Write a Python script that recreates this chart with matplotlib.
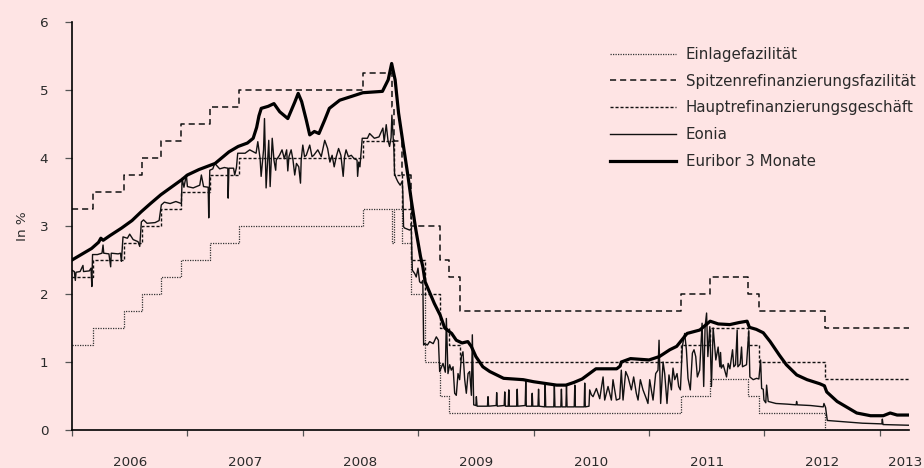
import datetime as _dt
import matplotlib
matplotlib.use("Agg")
import matplotlib.pyplot as plt
from matplotlib.ticker import FixedLocator, NullFormatter

# ---------------- data ----------------
# ECB key rates (change dates and new values)
mro_dates = ["2006-01-01", "2006-03-08", "2006-06-15", "2006-08-09", "2006-10-11", "2006-12-13",
             "2007-03-14", "2007-06-13", "2008-07-09", "2008-10-15", "2008-11-12", "2008-12-10",
             "2009-01-21", "2009-03-11", "2009-04-08", "2009-05-13", "2011-04-13", "2011-07-13",
             "2011-11-09", "2011-12-14", "2012-07-11"]
mro_vals = [2.25, 2.50, 2.75, 3.00, 3.25, 3.50, 3.75, 4.00, 4.25, 3.75, 3.25, 2.50,
            2.00, 1.50, 1.25, 1.00, 1.25, 1.50, 1.25, 1.00, 0.75]

dep_dates = ["2006-01-01", "2006-03-08", "2006-06-15", "2006-08-09", "2006-10-11", "2006-12-13",
             "2007-03-14", "2007-06-13", "2008-07-09", "2008-10-09", "2008-10-15", "2008-11-12",
             "2008-12-10", "2009-01-21", "2009-03-11", "2009-04-08", "2011-04-13", "2011-07-13",
             "2011-11-09", "2011-12-14", "2012-07-11"]
dep_vals = [1.25, 1.50, 1.75, 2.00, 2.25, 2.50, 2.75, 3.00, 3.25, 2.75, 3.25, 2.75,
            2.00, 1.00, 0.50, 0.25, 0.50, 0.75, 0.50, 0.25, 0.00]

mlf_dates = ["2006-01-01", "2006-03-08", "2006-06-15", "2006-08-09", "2006-10-11", "2006-12-13",
             "2007-03-14", "2007-06-13", "2008-07-09", "2008-10-09", "2008-10-15", "2008-11-12",
             "2008-12-10", "2009-03-11", "2009-04-08", "2009-05-13", "2011-04-13", "2011-07-13",
             "2011-11-09", "2011-12-14", "2012-07-11"]
mlf_vals = [3.25, 3.50, 3.75, 4.00, 4.25, 4.50, 4.75, 5.00, 5.25, 4.75, 4.25, 3.75,
            3.00, 2.50, 2.25, 1.75, 2.00, 2.25, 2.00, 1.75, 1.50]

# Euribor 3 months (decimal year, %)
euribor_t = [2006.00, 2006.08, 2006.17, 2006.23, 2006.25, 2006.27, 2006.33, 2006.43, 2006.52,
             2006.60, 2006.68, 2006.77, 2006.86, 2006.95, 2007.00, 2007.10, 2007.24, 2007.36,
             2007.44, 2007.52, 2007.57, 2007.60, 2007.62, 2007.64, 2007.70, 2007.75, 2007.80,
             2007.87, 2007.93, 2007.96, 2007.99, 2008.03, 2008.06, 2008.10, 2008.14, 2008.19,
             2008.23, 2008.32, 2008.43, 2008.52, 2008.69, 2008.74, 2008.77, 2008.80, 2008.83,
             2008.87, 2008.91, 2008.94, 2008.98, 2009.02, 2009.04, 2009.06, 2009.09, 2009.14,
             2009.19, 2009.23, 2009.29, 2009.33, 2009.38, 2009.43, 2009.46, 2009.50, 2009.56,
             2009.62, 2009.74, 2009.91, 2010.00, 2010.20, 2010.28, 2010.35, 2010.42, 2010.54,
             2010.72, 2010.75, 2010.76, 2010.84, 2011.00, 2011.09, 2011.18, 2011.24, 2011.33,
             2011.44, 2011.53, 2011.60, 2011.70, 2011.78, 2011.85, 2011.87, 2011.93, 2011.99,
             2012.05, 2012.13, 2012.19, 2012.28, 2012.37, 2012.48, 2012.52, 2012.54, 2012.63,
             2012.71, 2012.80, 2012.92, 2013.03, 2013.09, 2013.15, 2013.25]
euribor_v = [2.50, 2.58, 2.67, 2.76, 2.82, 2.79, 2.86, 2.97, 3.08,
             3.21, 3.33, 3.46, 3.57, 3.68, 3.75, 3.83, 3.92, 4.09,
             4.17, 4.22, 4.29, 4.45, 4.62, 4.73, 4.76, 4.80, 4.68,
             4.58, 4.82, 4.95, 4.83, 4.56, 4.34, 4.39, 4.36, 4.56,
             4.73, 4.85, 4.91, 4.96, 4.98, 5.15, 5.39, 5.15, 4.66,
             4.20, 3.75, 3.38, 2.94, 2.55, 2.40, 2.18, 2.06, 1.86,
             1.69, 1.50, 1.42, 1.32, 1.28, 1.30, 1.23, 1.08, 0.93,
             0.86, 0.76, 0.74, 0.71, 0.66, 0.66, 0.70, 0.75, 0.90,
             0.90, 0.94, 1.00, 1.05, 1.03, 1.08, 1.18, 1.23, 1.42,
             1.47, 1.60, 1.56, 1.55, 1.58, 1.60, 1.51, 1.48, 1.43,
             1.30, 1.10, 0.96, 0.81, 0.74, 0.68, 0.65, 0.56, 0.42,
             0.34, 0.25, 0.21, 0.21, 0.25, 0.22, 0.22]

# Eonia (decimal year, %)
eonia_t = [2006.000, 2006.020, 2006.029, 2006.035, 2006.070, 2006.095, 2006.100, 2006.150, 2006.165,
           2006.172, 2006.178, 2006.220, 2006.260, 2006.269, 2006.275, 2006.320, 2006.335, 2006.340,
           2006.400, 2006.420, 2006.428, 2006.442, 2006.480, 2006.500, 2006.530, 2006.572, 2006.587,
           2006.601, 2006.620, 2006.650, 2006.720, 2006.755, 2006.774, 2006.800, 2006.850, 2006.900,
           2006.948, 2006.954, 2006.970, 2006.991, 2007.000, 2007.050, 2007.107, 2007.121, 2007.140,
           2007.180, 2007.185, 2007.194, 2007.220, 2007.237, 2007.280, 2007.320, 2007.350, 2007.353,
           2007.360, 2007.400, 2007.410, 2007.425, 2007.436, 2007.500, 2007.540, 2007.595, 2007.610,
           2007.630, 2007.639, 2007.660, 2007.668, 2007.682, 2007.700, 2007.705, 2007.717, 2007.735,
           2007.750, 2007.765, 2007.770, 2007.798, 2007.820, 2007.840, 2007.860, 2007.870, 2007.880,
           2007.899, 2007.915, 2007.930, 2007.945, 2007.965, 2007.980, 2007.986, 2008.000, 2008.015,
           2008.030, 2008.060, 2008.080, 2008.095, 2008.130, 2008.160, 2008.190, 2008.215, 2008.235,
           2008.254, 2008.272, 2008.290, 2008.310, 2008.330, 2008.350, 2008.362, 2008.375, 2008.395,
           2008.420, 2008.445, 2008.470, 2008.475, 2008.485, 2008.495, 2008.515, 2008.521, 2008.560,
           2008.579, 2008.620, 2008.660, 2008.694, 2008.705, 2008.723, 2008.738, 2008.752, 2008.765,
           2008.772, 2008.790, 2008.795, 2008.810, 2008.824, 2008.844, 2008.862, 2008.867, 2008.873,
           2008.882, 2008.926, 2008.940, 2008.949, 2008.970, 2008.983, 2008.998, 2009.012, 2009.027,
           2009.040, 2009.047, 2009.056, 2009.080, 2009.099, 2009.130, 2009.157, 2009.175, 2009.186,
           2009.215, 2009.235, 2009.244, 2009.258, 2009.273, 2009.287, 2009.302, 2009.316, 2009.330,
           2009.345, 2009.359, 2009.374, 2009.388, 2009.403, 2009.417, 2009.432, 2009.446, 2009.461,
           2009.469, 2009.481, 2009.500, 2009.504, 2009.510, 2009.600, 2009.605, 2009.610, 2009.676,
           2009.680, 2009.685, 2009.745, 2009.750, 2009.755, 2009.780, 2009.785, 2009.790, 2009.853,
           2009.858, 2009.863, 2009.927, 2009.932, 2009.937, 2009.983, 2009.988, 2009.993, 2010.038,
           2010.043, 2010.048, 2010.095, 2010.100, 2010.105, 2010.175, 2010.180, 2010.185, 2010.236,
           2010.241, 2010.246, 2010.280, 2010.285, 2010.290, 2010.352, 2010.357, 2010.362, 2010.438,
           2010.443, 2010.448, 2010.480, 2010.486, 2010.500, 2010.515, 2010.544, 2010.573, 2010.602,
           2010.616, 2010.645, 2010.674, 2010.688, 2010.717, 2010.746, 2010.760, 2010.775, 2010.798,
           2010.818, 2010.847, 2010.867, 2010.890, 2010.905, 2010.925, 2010.948, 2010.977, 2010.991,
           2011.006, 2011.020, 2011.035, 2011.058, 2011.078, 2011.087, 2011.101, 2011.122, 2011.136,
           2011.156, 2011.173, 2011.194, 2011.208, 2011.223, 2011.243, 2011.257, 2011.272, 2011.289,
           2011.309, 2011.324, 2011.338, 2011.358, 2011.376, 2011.390, 2011.405, 2011.419, 2011.439,
           2011.460, 2011.474, 2011.486, 2011.499, 2011.510, 2011.527, 2011.541, 2011.556, 2011.579,
           2011.599, 2011.614, 2011.620, 2011.627, 2011.643, 2011.656, 2011.672, 2011.686, 2011.701,
           2011.724, 2011.735, 2011.750, 2011.764, 2011.770, 2011.790, 2011.802, 2011.810, 2011.845,
           2011.865, 2011.874, 2011.903, 2011.932, 2011.952, 2011.967, 2011.976, 2011.990, 2011.996,
           2012.012, 2012.019, 2012.033, 2012.100, 2012.200, 2012.275, 2012.279, 2012.285, 2012.400,
           2012.510, 2012.516, 2012.530, 2012.545, 2012.700, 2012.850, 2013.018, 2013.022, 2013.028,
           2013.150, 2013.250]
eonia_v = [2.35, 2.33, 2.20, 2.32, 2.33, 2.42, 2.33, 2.34, 2.38,
           2.11, 2.58, 2.58, 2.60, 2.72, 2.60, 2.59, 2.40, 2.60,
           2.59, 2.60, 2.48, 2.84, 2.82, 2.88, 2.80, 2.77, 2.70,
           3.06, 3.09, 3.04, 3.05, 3.08, 3.31, 3.35, 3.33, 3.36,
           3.33, 3.70, 3.57, 3.75, 3.58, 3.56, 3.60, 3.75, 3.58,
           3.57, 3.12, 3.82, 3.84, 3.92, 3.84, 3.86, 3.85, 3.41,
           3.85, 3.85, 3.75, 3.86, 4.07, 4.07, 4.12, 4.07, 4.24,
           3.99, 3.73, 4.12, 4.58, 3.56, 4.12, 4.26, 3.58, 4.29,
           3.97, 3.82, 3.97, 4.04, 4.12, 3.99, 4.12, 3.81, 4.02,
           4.12, 3.97, 3.75, 3.92, 3.87, 3.63, 3.97, 4.19, 4.02,
           4.04, 4.19, 4.02, 4.04, 4.12, 4.02, 4.26, 4.14, 3.94,
           4.04, 3.87, 4.02, 4.14, 4.04, 3.73, 4.02, 4.12, 4.02,
           4.04, 3.99, 3.97, 3.73, 3.94, 3.87, 4.29, 4.29, 4.29,
           4.36, 4.29, 4.31, 4.44, 4.24, 4.49, 4.26, 4.17, 4.30,
           4.63, 4.10, 3.77, 3.70, 3.65, 3.60, 3.66, 3.48, 2.99,
           2.97, 2.94, 2.96, 2.35, 2.30, 2.25, 2.38, 2.18, 2.16,
           2.20, 1.25, 1.27, 1.25, 1.30, 1.27, 1.37, 1.32, 0.86,
           0.98, 0.85, 1.64, 0.83, 0.96, 0.88, 0.93, 0.54, 0.51,
           0.83, 0.74, 1.08, 1.15, 0.74, 0.54, 0.83, 0.86, 0.51,
           1.40, 0.37, 0.36, 0.49, 0.35, 0.35, 0.49, 0.35, 0.36,
           0.55, 0.35, 0.36, 0.56, 0.35, 0.35, 0.59, 0.35, 0.35,
           0.60, 0.35, 0.36, 0.71, 0.35, 0.35, 0.54, 0.35, 0.35,
           0.60, 0.35, 0.34, 0.68, 0.34, 0.34, 0.66, 0.34, 0.34,
           0.60, 0.34, 0.34, 0.65, 0.34, 0.34, 0.66, 0.34, 0.34,
           0.69, 0.34, 0.35, 0.59, 0.52, 0.49, 0.61, 0.46, 0.78,
           0.44, 0.64, 0.44, 0.74, 0.44, 0.46, 0.88, 0.44, 0.86,
           0.78, 0.59, 0.78, 0.54, 0.44, 0.74, 0.59, 0.46, 0.39,
           0.74, 0.59, 0.44, 0.83, 0.88, 1.32, 0.39, 1.00, 0.83,
           0.39, 0.81, 0.59, 0.91, 0.74, 0.83, 0.64, 0.59, 1.23,
           1.42, 1.18, 0.76, 0.59, 1.13, 1.18, 1.08, 0.78, 0.88,
           1.57, 0.64, 1.52, 1.72, 1.08, 1.52, 0.64, 1.50, 1.03,
           1.22, 0.93, 1.14, 0.91, 0.96, 0.88, 0.78, 0.98, 0.90,
           1.18, 0.93, 0.96, 1.47, 0.93, 0.97, 1.22, 0.93, 0.96,
           1.46, 0.78, 0.74, 0.76, 0.75, 1.03, 0.61, 0.60, 0.44,
           0.40, 0.66, 0.42, 0.39, 0.38, 0.37, 0.42, 0.37, 0.36,
           0.34, 0.39, 0.33, 0.14, 0.12, 0.10, 0.09, 0.16, 0.08,
           0.075, 0.07]

year_ticks = [2006, 2007, 2008, 2009, 2010, 2011, 2012, 2013]
year_label_pos = [2006.5, 2007.5, 2008.5, 2009.5, 2010.5, 2011.5, 2012.5, 2013.22]
year_labels = ["2006", "2007", "2008", "2009", "2010", "2011", "2012", "2013"]
y_ticks = [0, 1, 2, 3, 4, 5, 6]
x_end = 2013.253

labels = ["Einlagefazilität", "Spitzenrefinanzierungsfazilität", "Hauptrefinanzierungsgeschäft",
          "Eonia", "Euribor 3 Monate"]


def dec_year(s):
    d = _dt.date.fromisoformat(s)
    start = _dt.date(d.year, 1, 1)
    n = (_dt.date(d.year + 1, 1, 1) - start).days
    return d.year + (d - start).days / n


def step_xy(dates, vals):
    xs = [dec_year(s) for s in dates] + [x_end]
    ys = list(vals) + [vals[-1]]
    return xs, ys


# ---------------- figure ----------------
bg = "#fee4e4"
txt = "#2a2a2a"
plt.rcParams["font.family"] = ["DejaVu Sans"]
fig = plt.figure(figsize=(9.24, 4.68), dpi=100, facecolor=bg)
ax = fig.add_axes([72 / 924, 1 - 430 / 468, (909 - 72) / 924, (430 - 22) / 468])
ax.set_facecolor(bg)

x, y = step_xy(dep_dates, dep_vals)
ax.plot(x, y, drawstyle="steps-post", color="#333333", lw=0.9, linestyle=(0, (1.0, 1.0)),
        label=labels[0])
x, y = step_xy(mlf_dates, mlf_vals)
ax.plot(x, y, drawstyle="steps-post", color="#111111", lw=1.1, linestyle=(0, (4.0, 2.6)),
        label=labels[1])
x, y = step_xy(mro_dates, mro_vals)
ax.plot(x, y, drawstyle="steps-post", color="#111111", lw=1.0, linestyle=(0, (2.2, 1.4)),
        label=labels[2])
ax.plot(eonia_t, eonia_v, color="#111111", lw=1.0, label=labels[3])
ax.plot(euribor_t, euribor_v, color="#000000", lw=2.3, label=labels[4], solid_joinstyle="round")

ax.set_xlim(2006.0, x_end)
ax.set_ylim(0, 6)
for s in ["top", "right"]:
    ax.spines[s].set_visible(False)
for s in ["left", "bottom"]:
    ax.spines[s].set_linewidth(1.2)
    ax.spines[s].set_color("#000000")

ax.set_yticks(y_ticks)
ax.set_yticklabels([str(v) for v in y_ticks])
ax.tick_params(axis="y", direction="out", length=5, width=0.9, color="#555555",
               labelsize=9.7, labelcolor=txt, pad=12)

ax.xaxis.set_major_locator(FixedLocator(year_ticks))
ax.xaxis.set_major_formatter(NullFormatter())
ax.xaxis.set_minor_locator(FixedLocator(year_label_pos))
ax.set_xticklabels(year_labels, minor=True)
ax.tick_params(axis="x", which="major", direction="out", length=4, width=0.9, color="#555555")
ax.tick_params(axis="x", which="minor", length=0, labelsize=9.7, labelcolor=txt, pad=19)

ax.set_ylabel("In %", fontsize=9.7, color=txt)
ax.yaxis.set_label_coords(-0.051, 0.5)

leg = ax.legend(loc="upper left", bbox_to_anchor=(610 / 924, 1 - 47 / 468),
                bbox_transform=fig.transFigure, frameon=False, fontsize=10.8,
                handlelength=4.4, handletextpad=0.65, labelspacing=0.78,
                borderpad=0, borderaxespad=0)
for t in leg.get_texts():
    t.set_color(txt)

fig.savefig("out.png", dpi=100, facecolor=bg)
